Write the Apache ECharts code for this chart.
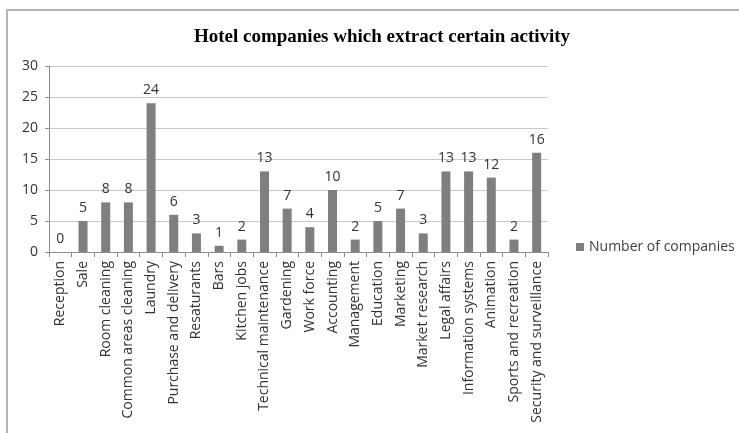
<!DOCTYPE html>
<html>
<head>
<meta charset="utf-8">
<script src="https://cdn.jsdelivr.net/npm/echarts@6/dist/echarts.min.js"></script>
<style>
html, body { margin: 0; padding: 0; background: #fff; }
#frame {
  position: absolute; left: 6px; top: 9px; width: 800px; height: 500px;
  border: 2px solid #b4b4b4; box-sizing: border-box;
}
#chart { position: absolute; left: 0; top: 0; width: 739px; height: 433px; }
</style>
</head>
<body>
<div id="frame"></div>
<div id="chart"></div>
<script>
const categories = ['Reception', 'Sale', 'Room cleaning', 'Common areas cleaning', 'Laundry',
  'Purchase and delivery', 'Resaturants', 'Bars', 'Kitchen jobs', 'Technical maintenance',
  'Gardening', 'Work force', 'Accounting', 'Management', 'Education', 'Marketing',
  'Market research', 'Legal affairs', 'Information systems', 'Animation',
  'Sports and recreation', 'Security and surveillance']
const companies = [0, 5, 8, 8, 24, 6, 3, 1, 2, 13, 7, 4, 10, 2, 5, 7, 3, 13, 13, 12, 2, 16]
const seriesName = 'Number of companies'
const titleText = 'Hotel companies which extract certain activity'

let chart = echarts.init(document.getElementById('chart'))
let option = {
  animation: false,
  textStyle: { fontFamily: 'Open Sans' },
  title: {
    text: titleText,
    left: 377,
    textAlign: 'center',
    top: 23,
    textStyle: {
      fontFamily: 'Liberation Serif',
      fontWeight: 'bold',
      fontSize: 19,
      color: '#000'
    }
  },
  legend: {
    data: [seriesName],
    left: 571,
    top: 235,
    itemWidth: 8,
    itemHeight: 8,
    itemGap: 6,
    icon: 'rect',
    textStyle: { fontSize: 14, color: '#404040', fontFamily: 'Open Sans' }
  },
  grid: { left: 49, right: 191, top: 66, bottom: 181 },
  xAxis: {
    type: 'category',
    data: categories,
    axisLine: { lineStyle: { color: '#8c8c8c', width: 1 } },
    axisTick: { show: true, length: 5, lineStyle: { color: '#8c8c8c' } },
    axisLabel: {
      interval: 0,
      rotate: 90,
      margin: 9,
      fontSize: 14,
      color: '#333',
      fontFamily: 'Open Sans'
    }
  },
  yAxis: {
    type: 'value',
    min: 0,
    max: 30,
    interval: 5,
    axisLine: { show: true, lineStyle: { color: '#8c8c8c' } },
    axisTick: { show: true, length: 4, lineStyle: { color: '#8c8c8c' } },
    axisLabel: { fontSize: 14, color: '#333', margin: 11 },
    splitLine: { lineStyle: { color: '#c8c8c8' } }
  },
  series: [
    {
      name: seriesName,
      type: 'bar',
      data: companies,
      barWidth: 9,
      itemStyle: { color: '#7f7f7f' },
      label: {
        show: true,
        position: 'top',
        distance: 6,
        fontSize: 14,
        color: '#333',
        fontFamily: 'Open Sans'
      }
    }
  ]
}
chart.setOption(option)
</script>
</body>
</html>
